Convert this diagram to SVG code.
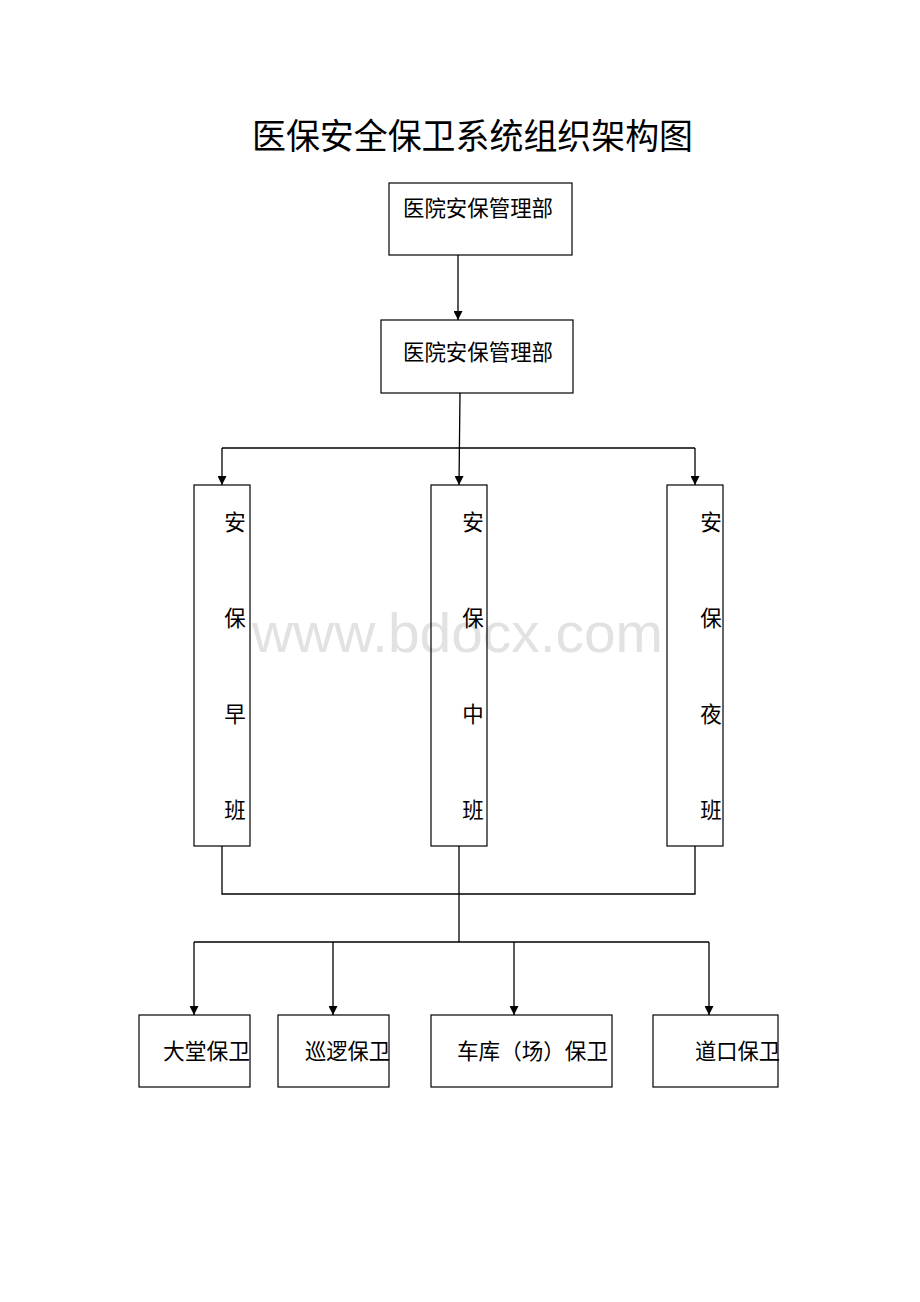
<svg xmlns="http://www.w3.org/2000/svg" width="920" height="1302" viewBox="0 0 920 1302">
<style>
.box{fill:none;stroke:#000;stroke-width:1.2}
.t{font-family:"Liberation Sans","Noto Sans CJK SC",sans-serif;fill:#000}
.n{font-size:21.5px}
.ln{fill:none;stroke:#000;stroke-width:1.3}
</style>
<defs>
<marker id="ah" viewBox="0 0 10 10" refX="10" refY="5" markerWidth="9" markerHeight="9" markerUnits="userSpaceOnUse" orient="auto">
<path d="M0,0 L10,5 L0,10 z" fill="#000"/>
</marker>
</defs>
<rect width="920" height="1302" fill="#fff"/>
<text x="252" y="652" font-family="Liberation Sans, sans-serif" font-size="56" fill="#e2e2e2" textLength="411" lengthAdjust="spacingAndGlyphs">www.bdocx.com</text>
<text class="t" x="252" y="149" font-size="35" textLength="441" lengthAdjust="spacingAndGlyphs">医保安全保卫系统组织架构图</text>

<g id="connectors">
<line class="ln" x1="458" y1="255" x2="458" y2="320" marker-end="url(#ah)"/>
<line class="ln" x1="460" y1="393" x2="459" y2="485" marker-end="url(#ah)"/>
<polyline class="ln" points="222,448 695,448"/>
<line class="ln" x1="222" y1="448" x2="222" y2="485" marker-end="url(#ah)"/>
<line class="ln" x1="695" y1="448" x2="695" y2="485" marker-end="url(#ah)"/>
<polyline class="ln" points="222,846 222,894 695,894 695,846"/>
<line class="ln" x1="459" y1="846" x2="459" y2="942"/>
<line class="ln" x1="194" y1="942" x2="709" y2="942"/>
<line class="ln" x1="194" y1="942" x2="194" y2="1015" marker-end="url(#ah)"/>
<line class="ln" x1="333" y1="942" x2="333" y2="1015" marker-end="url(#ah)"/>
<line class="ln" x1="514" y1="942" x2="514" y2="1015" marker-end="url(#ah)"/>
<line class="ln" x1="709" y1="942" x2="709" y2="1015" marker-end="url(#ah)"/>
</g>

<g id="top">
<rect class="box" x="389" y="183" width="183" height="72"/>
<text class="t n" x="403" y="216" textLength="150" lengthAdjust="spacingAndGlyphs">医院安保管理部</text>
</g>
<g id="mgr">
<rect class="box" x="381" y="320" width="192" height="73"/>
<text class="t n" x="403" y="360" textLength="150" lengthAdjust="spacingAndGlyphs">医院安保管理部</text>
</g>

<g id="early">
<rect class="box" x="194" y="485" width="56" height="361"/>
<text class="t n" x="235" y="530" text-anchor="middle">安</text>
<text class="t n" x="235" y="626" text-anchor="middle">保</text>
<text class="t n" x="235" y="722" text-anchor="middle">早</text>
<text class="t n" x="235" y="818" text-anchor="middle">班</text>
</g>
<g id="mid">
<rect class="box" x="431" y="485" width="56" height="361"/>
<text class="t n" x="473" y="530" text-anchor="middle">安</text>
<text class="t n" x="473" y="626" text-anchor="middle">保</text>
<text class="t n" x="473" y="722" text-anchor="middle">中</text>
<text class="t n" x="473" y="818" text-anchor="middle">班</text>
</g>
<g id="night">
<rect class="box" x="667" y="485" width="56" height="361"/>
<text class="t n" x="711" y="530" text-anchor="middle">安</text>
<text class="t n" x="711" y="626" text-anchor="middle">保</text>
<text class="t n" x="711" y="722" text-anchor="middle">夜</text>
<text class="t n" x="711" y="818" text-anchor="middle">班</text>
</g>

<g id="lobby">
<rect class="box" x="139" y="1015" width="111" height="72"/>
<text class="t n" x="163" y="1059" textLength="87" lengthAdjust="spacingAndGlyphs">大堂保卫</text>
</g>
<g id="patrol">
<rect class="box" x="278" y="1015" width="111" height="72"/>
<text class="t n" x="305" y="1059" textLength="85" lengthAdjust="spacingAndGlyphs">巡逻保卫</text>
</g>
<g id="garage">
<rect class="box" x="431" y="1015" width="181" height="72"/>
<text class="t n" x="457" y="1059" textLength="151" lengthAdjust="spacingAndGlyphs">车库（场）保卫</text>
</g>
<g id="gate">
<rect class="box" x="653" y="1015" width="125" height="72"/>
<text class="t n" x="695" y="1059" textLength="85" lengthAdjust="spacingAndGlyphs">道口保卫</text>
</g>
</svg>
